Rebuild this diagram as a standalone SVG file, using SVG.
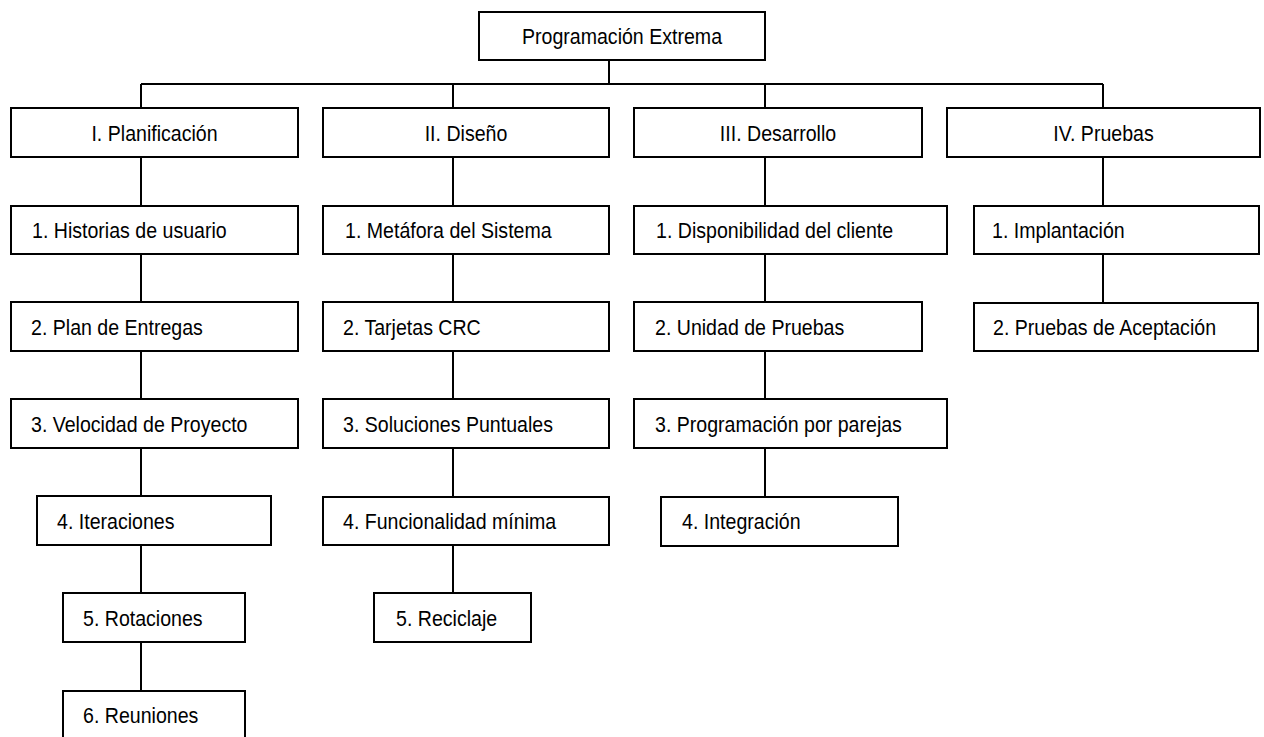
<svg xmlns="http://www.w3.org/2000/svg" width="1264" height="737" viewBox="0 0 1264 737">
  <style>
    .box { fill: #ffffff; stroke: #000000; stroke-width: 2; }
    .lbl { font-family: "Liberation Sans", Arial, sans-serif; font-size: 22px; fill: #000000; }
    .mid { text-anchor: middle; }
    .wire { stroke: #000000; stroke-width: 2; fill: none; }
  </style>
  <rect width="1264" height="737" fill="#ffffff"/>

  <!-- connectors -->
  <g id="connectors" class="wire">
    <path d="M609,60 V84"/>
    <path d="M141,84 H1103"/>
    <path d="M141,84 V108 M453,84 V108 M765,84 V108 M1103,84 V108"/>
    <!-- I. Planificación -->
    <path d="M141,157 V206 M141,254 V302 M141,351 V399 M141,448 V496 M141,545 V593 M141,642 V691"/>
    <!-- II. Diseño -->
    <path d="M453,157 V206 M453,254 V302 M453,351 V399 M453,448 V497 M453,545 V593"/>
    <!-- III. Desarrollo -->
    <path d="M765,157 V206 M765,254 V302 M765,351 V399 M765,448 V497"/>
    <!-- IV. Pruebas -->
    <path d="M1103,157 V206 M1103,254 V303"/>
  </g>

  <!-- root -->
  <g id="root">
    <rect class="box" x="479" y="12" width="286" height="48"/>
    <text class="lbl mid" transform="translate(622,44) scale(0.89,1)">Programación Extrema</text>
  </g>

  <!-- phases -->
  <g id="planificacion">
    <rect class="box" x="11" y="108" width="287" height="49"/>
    <text class="lbl mid" transform="translate(154.5,141) scale(0.89,1)">I. Planificación</text>
  </g>
  <g id="diseno">
    <rect class="box" x="323" y="108" width="286" height="49"/>
    <text class="lbl mid" transform="translate(466,141) scale(0.89,1)">II. Diseño</text>
  </g>
  <g id="desarrollo">
    <rect class="box" x="634" y="108" width="288" height="49"/>
    <text class="lbl mid" transform="translate(778,141) scale(0.89,1)">III. Desarrollo</text>
  </g>
  <g id="pruebas">
    <rect class="box" x="947" y="108" width="313" height="49"/>
    <text class="lbl mid" transform="translate(1103.5,141) scale(0.89,1)">IV. Pruebas</text>
  </g>

  <!-- I. Planificación items -->
  <g id="p1">
    <rect class="box" x="11" y="206" width="287" height="48"/>
    <text class="lbl" transform="translate(32,238) scale(0.89,1)">1. Historias de usuario</text>
  </g>
  <g id="p2">
    <rect class="box" x="11" y="302" width="287" height="49"/>
    <text class="lbl" transform="translate(31,335) scale(0.89,1)">2. Plan de Entregas</text>
  </g>
  <g id="p3">
    <rect class="box" x="11" y="399" width="287" height="49"/>
    <text class="lbl" transform="translate(31,432) scale(0.89,1)">3. Velocidad de Proyecto</text>
  </g>
  <g id="p4">
    <rect class="box" x="37" y="496" width="234" height="49"/>
    <text class="lbl" transform="translate(57,529) scale(0.89,1)">4. Iteraciones</text>
  </g>
  <g id="p5">
    <rect class="box" x="63" y="593" width="182" height="49"/>
    <text class="lbl" transform="translate(83,626) scale(0.89,1)">5. Rotaciones</text>
  </g>
  <g id="p6">
    <rect class="box" x="63" y="691" width="182" height="48"/>
    <text class="lbl" transform="translate(83,723) scale(0.89,1)">6. Reuniones</text>
  </g>

  <!-- II. Diseño items -->
  <g id="d1">
    <rect class="box" x="323" y="206" width="286" height="48"/>
    <text class="lbl" transform="translate(345,238) scale(0.89,1)">1. Metáfora del Sistema</text>
  </g>
  <g id="d2">
    <rect class="box" x="323" y="302" width="286" height="49"/>
    <text class="lbl" transform="translate(343,335) scale(0.89,1)">2. Tarjetas CRC</text>
  </g>
  <g id="d3">
    <rect class="box" x="323" y="399" width="286" height="49"/>
    <text class="lbl" transform="translate(343,432) scale(0.89,1)">3. Soluciones Puntuales</text>
  </g>
  <g id="d4">
    <rect class="box" x="323" y="497" width="286" height="48"/>
    <text class="lbl" transform="translate(343,529) scale(0.89,1)">4. Funcionalidad mínima</text>
  </g>
  <g id="d5">
    <rect class="box" x="374" y="593" width="157" height="49"/>
    <text class="lbl" transform="translate(396,626) scale(0.89,1)">5. Reciclaje</text>
  </g>

  <!-- III. Desarrollo items -->
  <g id="r1">
    <rect class="box" x="634" y="206" width="313" height="48"/>
    <text class="lbl" transform="translate(656,238) scale(0.89,1)">1. Disponibilidad del cliente</text>
  </g>
  <g id="r2">
    <rect class="box" x="634" y="302" width="288" height="49"/>
    <text class="lbl" transform="translate(655,335) scale(0.89,1)">2. Unidad de Pruebas</text>
  </g>
  <g id="r3">
    <rect class="box" x="634" y="399" width="313" height="49"/>
    <text class="lbl" transform="translate(655,432) scale(0.89,1)">3. Programación por parejas</text>
  </g>
  <g id="r4">
    <rect class="box" x="661" y="497" width="237" height="49"/>
    <text class="lbl" transform="translate(682,529) scale(0.89,1)">4. Integración</text>
  </g>

  <!-- IV. Pruebas items -->
  <g id="t1">
    <rect class="box" x="974" y="206" width="285" height="48"/>
    <text class="lbl" transform="translate(992,238) scale(0.89,1)">1. Implantación</text>
  </g>
  <g id="t2">
    <rect class="box" x="974" y="303" width="284" height="48"/>
    <text class="lbl" transform="translate(993,335) scale(0.89,1)">2. Pruebas de Aceptación</text>
  </g>
</svg>
